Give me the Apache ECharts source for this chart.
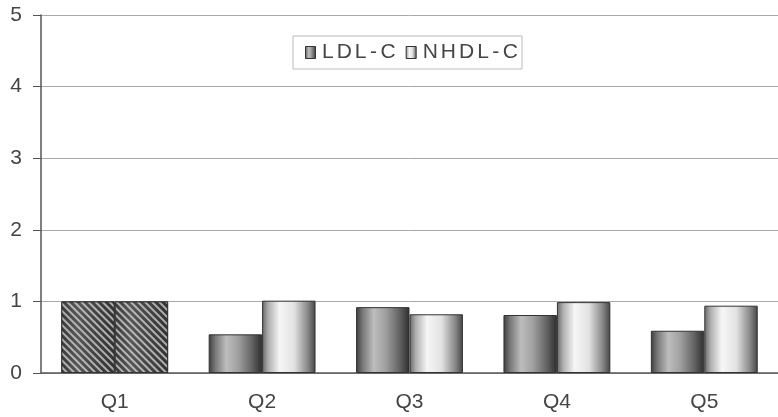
<!DOCTYPE html>
<html>
<head>
<meta charset="utf-8">
<script src="https://cdn.jsdelivr.net/npm/echarts@6/dist/echarts.min.js"></script>
<style>
  html, body { margin: 0; padding: 0; background: #fff; }
  #chart { width: 778px; height: 417px; }
</style>
</head>
<body>
<div id="chart"></div>
<script>
// Quintile groups and relative values per lipid measure
const categories = ['Q1', 'Q2', 'Q3', 'Q4', 'Q5'];
const ldlValues = [1.0, 0.54, 0.92, 0.81, 0.59];
const nhdlValues = [1.0, 1.01, 0.82, 0.99, 0.94];
const yTicks = [0, 1, 2, 3, 4, 5];

const FONT = '"Liberation Sans", Arial, sans-serif';
const TEXT = '#454545';

// Cylinder-like horizontal shading for each series
function shade(stops) {
  return {
    type: 'linear', x: 0, y: 0, x2: 1, y2: 0,
    colorStops: stops.map(s => ({ offset: s[0], color: s[1] }))
  };
}
const ldlFill = shade([[0, '#3c3c3c'], [0.12, '#777'], [0.33, '#bdbdbd'], [0.55, '#a0a0a0'], [0.8, '#666'], [1, '#2e2e2e']]);
const nhdlFill = shade([[0, '#666'], [0.12, '#b0b0b0'], [0.33, '#f6f6f6'], [0.6, '#e2e2e2'], [0.85, '#8a8a8a'], [1, '#444']]);
const refFill = shade([[0, '#383838'], [0.3, '#575757'], [0.5, '#4a4a4a'], [1, '#323232']]);

// Reference group (first category) is drawn hatched
const hatch = {
  symbol: 'rect',
  symbolSize: 1,
  dashArrayX: [[1, 0]],
  dashArrayY: [1.6, 3],
  rotation: Math.PI / 4,
  color: 'rgba(225,225,225,0.7)'
};

function buildData(values) {
  return values.map((v, i) => i === 0
    ? { value: v, itemStyle: { color: refFill, decal: hatch } }
    : v);
}

// Legend labels are set with a little tracking between characters
function tracked(name) {
  return name.split('').map(c => c === '-' ? '{d|-}' : '{c|' + c + '}').join('');
}

const chart = echarts.init(document.getElementById('chart'), null, { renderer: 'canvas' });
chart.setOption({
  animation: false,
  backgroundColor: '#fff',
  grid: { left: 41, right: -8, top: 15, bottom: 44, containLabel: false },
  legend: {
    left: 293, top: 36,
    padding: [6, 4, 6, 12],
    borderColor: '#bbb', borderWidth: 1,
    itemWidth: 10, itemHeight: 12, itemGap: 10,
    icon: 'rect',
    formatter: tracked,
    textStyle: {
      fontFamily: FONT, fontSize: 21, color: TEXT,
      rich: {
        c: { fontFamily: FONT, fontSize: 21, color: TEXT, padding: [0, 1.5, 0, 1.5] },
        d: { fontFamily: FONT, fontSize: 21, color: TEXT, padding: [0, 2, 0, 2] }
      }
    },
    data: [
      { name: 'LDL-C', itemStyle: { color: ldlFill, borderColor: '#333', borderWidth: 1 } },
      { name: 'NHDL-C', itemStyle: { color: nhdlFill, borderColor: '#333', borderWidth: 1 } }
    ]
  },
  xAxis: {
    type: 'category',
    data: categories,
    axisLine: { lineStyle: { color: '#555', width: 1.5 } },
    axisTick: { inside: true, length: 7, lineStyle: { color: '#555' } },
    axisLabel: { fontFamily: FONT, fontSize: 21, color: TEXT, margin: 19 }
  },
  yAxis: {
    type: 'value',
    min: 0, max: 5, interval: 1,
    axisLine: { show: true, lineStyle: { color: '#555', width: 1.5 } },
    axisTick: { show: true, length: 8, lineStyle: { color: '#555' } },
    axisLabel: {
      fontFamily: FONT, fontSize: 21, color: TEXT, margin: 19,
      formatter: v => yTicks.includes(v) ? String(v) : ''
    },
    splitLine: { lineStyle: { color: '#a8a8a8', width: 1 } }
  },
  series: [
    {
      name: 'LDL-C', type: 'bar',
      data: buildData(ldlValues),
      barGap: '0%', barCategoryGap: '27.5%',
      itemStyle: { color: ldlFill, borderColor: '#333', borderWidth: 1 }
    },
    {
      name: 'NHDL-C', type: 'bar',
      data: buildData(nhdlValues),
      barGap: '0%', barCategoryGap: '27.5%',
      itemStyle: { color: nhdlFill, borderColor: '#333', borderWidth: 1 }
    }
  ]
});
</script>
</body>
</html>
